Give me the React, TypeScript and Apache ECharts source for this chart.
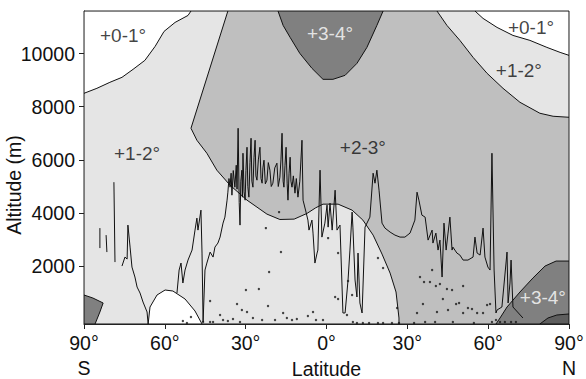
import React, { useEffect, useRef } from "react";
import * as echarts from "echarts";

// Axis ranges
const LAT_MIN = -90;
const LAT_MAX = 90;
const ALT_MIN = -170;
const ALT_MAX = 11600;

const X_TICKS = [-90, -60, -30, 0, 30, 60, 90];
const X_TICK_LABELS = ["90°\nS", "60°", "30°", "0°", "30°", "60°", "90°\nN"];
const Y_TICKS = [2000, 4000, 6000, 8000, 10000];

// Temperature-change zones: [latitude, altitude]
const ZONE_LEFT_1_2 = [
  [-90, 11600], [-36.6, 11600], [-50.3, 7190], [-48.1, 6740], [-44.4, 6252], [-40.7, 5614],
  [-35.8, 5050], [-29.5, 4487], [-22.1, 3962], [-17.3, 3760], [-12.0, 3774], [-7.2, 3990],
  [-4.0, 4200], [-1.3, 4337], [4.3, 4337], [9.5, 4112], [13.5, 3737], [17.3, 3173],
  [20.6, 2460], [23.6, 1746], [25.8, 1033], [26.9, 56], [26.9, -170], [-90, -170],
];
const ZONE_RIGHT_1_2 = [
  [41.0, 11600], [44.7, 11058], [49.5, 10495], [54.4, 9857], [59.6, 9256], [65.5, 8693],
  [71.8, 8167], [79.2, 7755], [84.1, 7642], [90, 7604], [90, 11600],
];
const ZONE_TOP_3_4 = [
  [-18.0, 11600], [-16.1, 11058], [-13.5, 10607], [-9.9, 10007], [-5.4, 9444], [-1.3, 9031],
  [2.4, 9031], [6.9, 9181], [11.3, 9631], [15.0, 10232], [18.7, 11058], [21.0, 11600],
];
const ZONE_LEFT_0_1 = [
  [-90, 11600], [-50.3, 11600], [-51.4, 11433], [-56.2, 11171], [-60.3, 10832], [-63.6, 10270],
  [-67.4, 9744], [-71.8, 9406], [-75.9, 9106], [-80.4, 8918], [-85.2, 8693], [-90, 8505],
];
const ZONE_RIGHT_0_1 = [
  [55.1, 11600], [58.1, 11321], [63.3, 10983], [69.2, 10682], [75.5, 10495], [81.8, 10232],
  [86.7, 10044], [90, 9932], [90, 11600],
];
const ZONE_SOUTH_0_1 = [
  [-66.2, -170], [-65.5, 469], [-62.9, 920], [-59.9, 1108], [-57.0, 1070], [-52.5, 770],
  [-48.8, 319], [-46.2, -170],
];
const ZONE_SOUTH_3_4 = [
  [-90, 920], [-86.7, 807], [-82.9, 620], [-84.1, 282], [-85.9, -170], [-90, -170],
];
const ZONE_NORTH_3_4 = [
  [62.9, -170], [64.4, 56], [67.0, 469], [71.8, 1033], [76.6, 1558], [81.1, 2009],
  [85.2, 2197], [90, 2197], [90, -170],
];
const ZONE_NORTH_4_5 = [
  [79.2, -170], [82.2, 56], [85.5, 169], [90, 207], [90, -170],
];

// Surface topography profile segments
const TOPO_A = [[-84.1, 3436], [-84.1, 2685]];
const TOPO_B = [[-81.8, 3173], [-81.5, 2535]];
const TOPO_C = [[-78.9, 5163], [-78.5, 2159]];
const TOPO_ANTARCTICA = [
  [-75.9, 2009], [-74.8, 2347], [-74.0, 2272], [-73.7, 3549], [-72.9, 2722], [-72.2, 1971],
  [-71.1, 1596], [-70.3, 1220], [-69.2, 995], [-68.1, 657], [-66.6, 282], [-66.2, -170],
];
const TOPO_MAIN = [
  [-55.5, 995], [-54.7, 1859], [-54.0, 2122], [-53.3, 1371], [-52.5, 1859], [-51.4, 2234],
  [-49.9, 2610], [-48.8, 3361], [-48.1, 3811], [-47.7, 3361], [-46.6, 4112], [-46.2, 2497],
  [-45.8, -94], [-45.5, 732], [-45.1, 1859], [-44.4, 2122], [-43.2, 2535], [-42.1, 2347],
  [-41.4, 2722], [-40.3, 2873], [-39.5, 3098], [-38.4, 3624], [-37.7, 3849], [-36.9, 4487],
  [-36.6, 4787], [-36.2, 5300], [-35.8, 4975], [-35.4, 5500], [-35.1, 4675], [-34.6, 5600],
  [-34.0, 4975], [-33.5, 5800], [-33.2, 4900], [-32.8, 7190], [-32.4, 4400], [-32.1, 3549],
  [-31.8, 5200], [-31.4, 5614], [-31.2, 4600], [-31.0, 6252], [-30.6, 4800], [-30.2, 4487],
  [-29.9, 5600], [-29.5, 6477], [-29.2, 5000], [-28.8, 4600], [-28.4, 5900], [-28.0, 6815],
  [-27.7, 5200], [-27.3, 4975], [-26.9, 6100], [-26.5, 6740], [-26.2, 5400], [-25.8, 5238],
  [-25.3, 6000], [-24.7, 6477], [-24.3, 5300], [-23.9, 5125], [-23.6, 5700], [-23.2, 5989],
  [-22.7, 5100], [-22.1, 5238], [-21.6, 5900], [-21.0, 5614], [-20.5, 5000], [-19.9, 5125],
  [-19.2, 5700], [-18.4, 5877], [-17.9, 5000], [-17.3, 5351], [-16.9, 6000], [-16.5, 7003],
  [-16.1, 5200], [-15.8, 4975], [-15.4, 5800], [-15.0, 6477], [-14.6, 5100], [-14.3, 4487],
  [-13.9, 5500], [-13.5, 6102], [-13.2, 5200], [-12.8, 4975], [-12.3, 5400], [-11.7, 4750],
  [-11.2, 5300], [-10.6, 4600], [-9.9, 5200], [-9.1, 6740], [-8.7, 4487],
  [-7.6, 4037], [-6.9, 3737], [-6.5, 3361],
  [-5.4, 3737], [-5.0, 3248], [-4.3, 2122], [-3.5, 2497], [-3.2, 2610], [-2.4, 5614],
  [-1.7, 3098], [-0.6, 3624], [0.2, 4300], [0.6, 3473], [1.3, 4375], [2.1, 3361],
  [3.2, 4862], [3.9, 3361], [5.0, 3549], [6.1, 244], [6.9, 244], [8.0, 1483], [8.7, 2610],
  [9.5, 4037], [9.8, 3473], [10.6, 1483], [11.3, 845], [11.7, 2497], [12.4, 620], [13.2, 244],
  [13.5, 1108], [14.3, 3473], [16.1, 3849], [17.3, 5501], [18.0, 5125], [18.7, 5614],
  [19.5, 4862], [20.6, 3624], [21.7, 3436], [23.6, 3286], [25.4, 3173], [27.3, 3098],
  [29.1, 3098], [31.0, 3248], [32.8, 3737], [33.6, 4787], [34.3, 4487], [35.4, 3924],
  [36.6, 3849], [37.7, 2985], [39.2, 3361], [39.5, 2873], [40.6, 3248], [41.4, 2610],
  [42.1, 2985], [42.9, 1596], [43.6, 3624], [44.4, 2610], [45.1, 3248], [45.8, 3849],
  [46.6, 2610], [46.9, 2722], [48.4, 2497], [49.5, 2422], [50.7, 2234], [52.5, 2234],
  [54.4, 2347], [55.1, 3098], [55.9, 2497], [57.0, 2422], [58.1, 3436], [58.8, 2347],
  [59.9, 1971], [60.7, 1859], [61.4, 6252], [62.2, 1859], [62.9, 244], [63.3, 357],
  [65.1, 469], [67.0, 2535], [67.4, 620], [68.1, 1371], [68.5, 2234], [69.2, 469], [72.9, 56],
];

// Island / station dots
const DOTS = [
  [-53.3, -56], [-51.8, -131], [-50.3, 94], [-45.8, -94], [-43.2, 695], [-43.2, -94],
  [-42.1, -94], [-39.5, 169], [-38.4, -19], [-36.6, -56], [-34.7, 19], [-33.2, 582],
  [-32.1, -94], [-31.4, 357], [-29.9, 1108], [-29.5, 282], [-27.3, 56], [-25.1, 1145],
  [-23.9, -19], [-22.5, 3436], [-21.7, 507], [-21.3, 1784], [-19.1, -19], [-17.6, 4037],
  [-16.9, 2535], [-16.1, 244], [-14.7, 56], [-12.8, -19], [-11.0, 19], [-6.9, 131],
  [-5.0, 282], [-3.9, -19], [-1.3, -19], [0.6, 3060], [3.2, 845], [4.3, 770], [4.3, 2497],
  [7.6, 169], [8.0, 1446], [9.5, 920], [9.8, -94], [11.3, -131], [13.5, -131], [15.8, -131],
  [19.1, -131], [21.0, -131], [19.1, 2309], [21.0, 1934], [24.3, -131], [26.2, 432],
  [26.9, -131], [32.5, -131], [33.6, 244], [34.7, 1596], [35.8, 582], [36.2, 1408],
  [36.6, -94], [38.4, 1408], [39.2, 1859], [40.3, -94], [40.6, 1258], [41.0, 282],
  [42.1, 1333], [43.2, 770], [44.7, 1145], [45.1, 357], [46.6, 1108], [46.9, -94],
  [48.1, 582], [49.2, 620], [50.7, 244], [50.7, 1258], [52.5, 432], [54.0, 394],
  [54.7, -131], [55.9, 244], [58.1, 244], [59.6, 545], [60.7, 582], [61.4, -94],
  [62.9, -19], [64.4, -94], [66.2, -94], [68.5, -94], [70.3, -94],
];

// Zone labels: [latitude, altitude]
const ZONE_LABEL_TEXT = ["+0-1°", "+1-2°", "+3-4°", "+0-1°", "+1-2°", "+2-3°", "+3-4°"];
const ZONE_LABEL_POS = [
  [-75.5, 10683], [-70.3, 6252], [1.3, 10758], [75.9, 10983], [71.4, 9369], [13.5, 6477], [80.3, 845],
];
const ZONE_LABEL_WHITE = [false, false, true, false, false, false, true];

const C_WHITE = "#ffffff";
const C_LIGHT = "#e5e5e5";
const C_MID = "#bfbfbf";
const C_DARK = "#808080";
const C_DARKER = "#5e5e5e";

const FONT = "'Liberation Sans', Arial, Helvetica, sans-serif";

const REGIONS = [
  { points: ZONE_LEFT_1_2, color: C_LIGHT },
  { points: ZONE_RIGHT_1_2, color: C_LIGHT },
  { points: ZONE_TOP_3_4, color: C_DARK },
  { points: ZONE_LEFT_0_1, color: C_WHITE },
  { points: ZONE_RIGHT_0_1, color: C_WHITE },
  { points: ZONE_SOUTH_0_1, color: C_WHITE },
  { points: ZONE_SOUTH_3_4, color: C_DARK },
  { points: ZONE_NORTH_3_4, color: C_DARK },
  { points: ZONE_NORTH_4_5, color: C_DARKER },
];

function topoSeries(data: number[][]) {
  return {
    type: "line",
    data,
    showSymbol: false,
    symbol: "none",
    silent: true,
    z: 3,
    lineStyle: { color: "#111", width: 1 },
  };
}

export default function App() {
  const ref = useRef<HTMLDivElement>(null);
  useEffect(() => {
    if (!ref.current) return;
    const chart = echarts.init(ref.current, null, { renderer: "svg" });
    const option: any = {
      animation: false,
      textStyle: { fontFamily: FONT },
      grid: {
        left: 84,
        right: 17,
        top: 11,
        bottom: 55,
        outerBoundsMode: "none",
        containLabel: false,
        show: true,
        backgroundColor: C_MID,
        borderColor: "#222",
        borderWidth: 1,
      },
      xAxis: {
        type: "value",
        min: LAT_MIN,
        max: LAT_MAX,
        interval: 30,
        name: "Latitude",
        nameLocation: "middle",
        nameGap: 35,
        nameMoveOverlap: false,
        nameTextStyle: { color: "#111", fontSize: 19.5, fontFamily: FONT },
        splitLine: { show: false },
        axisLine: { show: true, onZero: false, lineStyle: { color: "#222", width: 1 } },
        axisTick: { show: true, length: 5, lineStyle: { color: "#222" } },
        axisLabel: {
          color: "#111",
          fontSize: 19.5,
          fontFamily: FONT,
          lineHeight: 25,
          margin: 6,
          showMinLabel: true,
          showMaxLabel: true,
          hideOverlap: false,
          formatter: (v: number) => {
            const i = X_TICKS.indexOf(Math.round(v));
            return i >= 0 ? X_TICK_LABELS[i] : "";
          },
        },
      },
      yAxis: {
        type: "value",
        min: ALT_MIN,
        max: ALT_MAX,
        splitLine: { show: false },
        axisLine: { show: true, onZero: false, lineStyle: { color: "#222", width: 1 } },
        axisTick: {
          show: true,
          length: 5,
          lineStyle: { color: "#222" },
          customValues: Y_TICKS,
        },
        axisLabel: {
          color: "#111",
          fontSize: 19.5,
          fontFamily: FONT,
          margin: 9,
          customValues: Y_TICKS,
          formatter: (v: number) => String(v),
        },
      },
      graphic: [
        {
          type: "text",
          x: 14,
          y: 185,
          rotation: Math.PI / 2,
          style: {
            text: "Altitude (m)",
            fill: "#111",
            fontSize: 19.5,
            fontFamily: FONT,
            align: "center",
            verticalAlign: "middle",
          },
        },
      ],
      series: [
        {
          type: "custom",
          silent: true,
          z: 1,
          clip: true,
          data: REGIONS.map((r, i) => [r.points[0][0], r.points[0][1], i]),
          encode: { x: 0, y: 1 },
          renderItem: (_params: any, api: any) => {
            const r = REGIONS[api.value(2)];
            const pts = r.points.map((p) => api.coord(p));
            return {
              type: "polygon",
              shape: { points: pts },
              style: { fill: r.color, stroke: "#111", lineWidth: 1 },
            };
          },
        },
        topoSeries(TOPO_A),
        topoSeries(TOPO_B),
        topoSeries(TOPO_C),
        topoSeries(TOPO_ANTARCTICA),
        topoSeries(TOPO_MAIN),
        {
          type: "scatter",
          data: DOTS,
          symbol: "circle",
          symbolSize: 2.4,
          silent: true,
          z: 4,
          itemStyle: { color: "#111" },
        },
        {
          type: "scatter",
          silent: true,
          z: 5,
          symbolSize: 0,
          data: ZONE_LABEL_POS.map((p, i) => ({
            value: p,
            name: ZONE_LABEL_TEXT[i],
            label: { color: ZONE_LABEL_WHITE[i] ? "#ffffff" : "#111" },
          })),
          itemStyle: { color: "transparent" },
          label: {
            show: true,
            position: "inside",
            formatter: "{b}",
            fontSize: 19,
            fontFamily: FONT,
          },
        },
      ],
    };
    chart.setOption(option);
    return () => chart.dispose();
  }, []);
  return (
    <div
      ref={ref}
      style={{ position: "absolute", left: 0, top: 0, width: 586, height: 379 }}
    />
  );
}
